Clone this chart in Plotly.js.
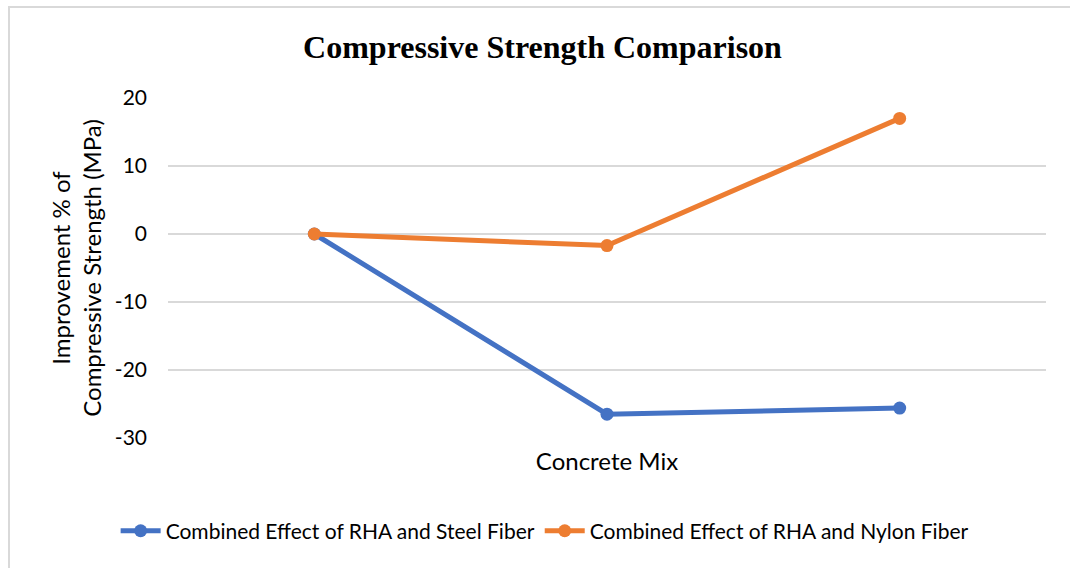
<!DOCTYPE html>
<html>
<head>
<meta charset="utf-8">
<script src="https://cdn.plot.ly/plotly-3.0.1.min.js"></script>
<style>
html,body{margin:0;padding:0;background:#fff;}
#wrap{position:relative;width:1070px;height:568px;overflow:hidden;}
#chart{position:absolute;left:0;top:0;width:1070px;height:568px;}
#frame{position:absolute;left:8px;top:6px;width:1100px;height:600px;border-left:2px solid #d9d9d9;border-top:2px solid #d9d9d9;pointer-events:none;}
</style>
</head>
<body>
<div id="wrap"><div id="chart"></div><div id="frame"></div></div>
<script>
var mixes = ["Mix 1", "Mix 2", "Mix 3"];
var steelFiber = [0, -26.5, -25.6];
var nylonFiber = [0, -1.7, 17.0];
var seriesNames = ["Combined Effect of RHA and Steel Fiber", "Combined Effect of RHA and Nylon Fiber"];
var yTicks = [-30, -20, -10, 0, 10, 20];

var font = "Lato, 'Open Sans', sans-serif";
var traces = [
  {x: mixes, y: steelFiber, name: seriesNames[0], type: "scatter", mode: "lines+markers",
   line: {color: "#4472C4", width: 5}, marker: {color: "#4472C4", size: 13}},
  {x: mixes, y: nylonFiber, name: seriesNames[1], type: "scatter", mode: "lines+markers",
   line: {color: "#ED7D31", width: 5}, marker: {color: "#ED7D31", size: 13}}
];
var layout = {
  width: 1070, height: 568,
  margin: {l: 168, r: 24, t: 98, b: 130},
  paper_bgcolor: "#ffffff", plot_bgcolor: "#ffffff",
  font: {family: font, size: 22, color: "#000"},
  title: {text: "<b>Compressive Strength Comparison</b>", font: {family: "'Liberation Serif', 'Times New Roman', serif", size: 32, color: "#000"},
          xref: "container", x: 0.507, xanchor: "center", yref: "container", y: 0.918, yanchor: "middle"},
  xaxis: {type: "category", range: [-0.5, 2.5], showticklabels: false, showgrid: false, zeroline: false, showline: false, ticks: "",
          title: {text: "Concrete Mix", font: {size: 24}, standoff: 15}, automargin: false},
  yaxis: {range: [-30, 20], tickvals: yTicks, ticktext: yTicks.map(String), showgrid: true, gridcolor: "#d9d9d9", gridwidth: 1.5,
          zeroline: false, showline: false, ticks: "", ticklabelstandoff: 20, tickfont: {size: 21},
          title: {text: "Improvement % of<br>Compressive Strength (MPa)", font: {size: 24}, standoff: 6}, automargin: false},
  showlegend: true,
  legend: {orientation: "h", xref: "container", yref: "container", x: 0.509, xanchor: "center", y: 0.065, yanchor: "middle",
           font: {size: 21}, itemwidth: 40, traceorder: "normal", bgcolor: "rgba(0,0,0,0)"},
  hovermode: false
};
Plotly.newPlot("chart", traces, layout, {staticPlot: true, displayModeBar: false});
</script>
</body>
</html>
